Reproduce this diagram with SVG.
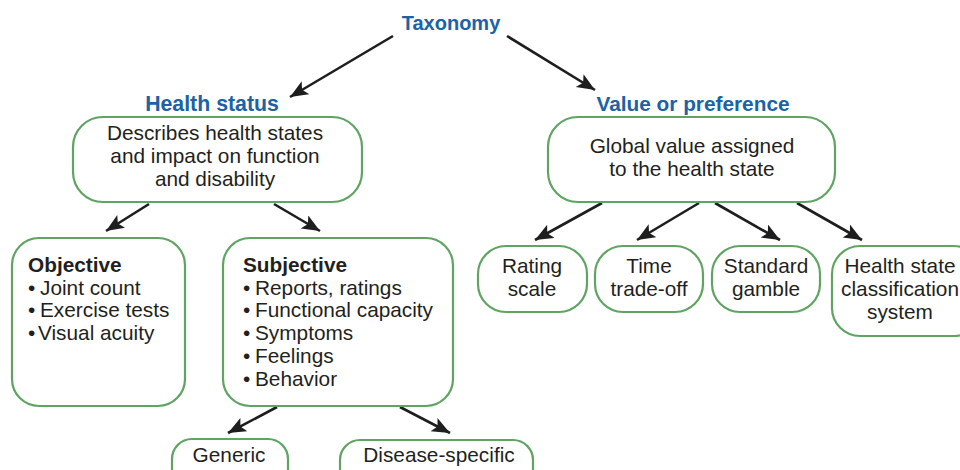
<svg xmlns="http://www.w3.org/2000/svg" width="960" height="470" viewBox="0 0 960 470">
<defs>
<marker id="ah" markerUnits="userSpaceOnUse" markerWidth="20" markerHeight="16" refX="18" refY="7.5" orient="auto">
<path d="M0,0 L18,7.5 L0,15 L4,7.5 z" fill="#1e1e1e"/>
</marker>
<style>
.box{fill:#fff;stroke:#5fa463;stroke-width:2.2}
.t{font-family:"Liberation Sans",Arial,sans-serif;font-size:20.8px;fill:#231f20}
.c{text-anchor:middle}
.h{font-family:"Liberation Sans",Arial,sans-serif;font-size:20.8px;font-weight:bold;fill:#1b62a6;text-anchor:middle}
.b{font-weight:bold}
.arr{stroke:#1e1e1e;stroke-width:2.6;fill:none;marker-end:url(#ah)}
</style>
</defs>
<rect width="960" height="470" fill="#fff"/>
<g id="connectors">
<line class="arr" x1="393" y1="36" x2="290" y2="97"/>
<line class="arr" x1="507" y1="36" x2="595" y2="90"/>
<line class="arr" x1="149" y1="204" x2="106" y2="231"/>
<line class="arr" x1="274" y1="204" x2="320" y2="231"/>
<line class="arr" x1="277" y1="407" x2="228" y2="433"/>
<line class="arr" x1="400" y1="407" x2="450" y2="433"/>
<line class="arr" x1="602" y1="203" x2="535" y2="240"/>
<line class="arr" x1="699" y1="203" x2="637" y2="240"/>
<line class="arr" x1="715" y1="203" x2="780" y2="240"/>
<line class="arr" x1="797" y1="203" x2="862" y2="240"/>
</g>
<g id="taxonomy">
<text class="h" x="451" y="30" style="font-size:20px">Taxonomy</text>
</g>
<g id="health-status">
<text class="h" x="212" y="111" style="font-size:21.3px">Health status</text>
<rect class="box" x="73" y="117" width="289" height="85" rx="30"/>
<text class="t c" x="215" y="140">Describes health states</text>
<text class="t c" x="215" y="163">and impact on function</text>
<text class="t c" x="215" y="186">and disability</text>
</g>
<g id="objective">
<rect class="box" x="12" y="238" width="173" height="168" rx="27"/>
<text class="t b" x="28" y="272">Objective</text>
<text class="t" x="28" y="295">•<tspan x="40">Joint count</tspan></text>
<text class="t" x="28" y="317">•<tspan x="40">Exercise tests</tspan></text>
<text class="t" x="28" y="340">•<tspan x="38">Visual acuity</tspan></text>
</g>
<g id="subjective">
<rect class="box" x="223" y="238" width="230" height="168" rx="27"/>
<text class="t b" x="243" y="272">Subjective</text>
<text class="t" x="243" y="295">•<tspan x="255">Reports, ratings</tspan></text>
<text class="t" x="243" y="317">•<tspan x="255">Functional capacity</tspan></text>
<text class="t" x="243" y="340">•<tspan x="255">Symptoms</tspan></text>
<text class="t" x="243" y="363">•<tspan x="255">Feelings</tspan></text>
<text class="t" x="243" y="386">•<tspan x="255">Behavior</tspan></text>
</g>
<g id="generic">
<rect class="box" x="172" y="439" width="116" height="50" rx="20"/>
<text class="t c" x="229" y="462">Generic</text>
</g>
<g id="disease-specific">
<rect class="box" x="340" y="440" width="193" height="50" rx="20"/>
<text class="t c" x="439" y="462">Disease-specific</text>
</g>
<g id="value-preference">
<text class="h" x="693" y="111">Value or preference</text>
<rect class="box" x="548" y="117" width="287" height="85" rx="30"/>
<text class="t c" x="692" y="153">Global value assigned</text>
<text class="t c" x="692" y="176">to the health state</text>
</g>
<g id="rating-scale">
<rect class="box" x="478" y="246" width="109" height="66" rx="28"/>
<text class="t c" x="532" y="273">Rating</text>
<text class="t c" x="532" y="296">scale</text>
</g>
<g id="time-trade-off">
<rect class="box" x="595" y="246" width="108" height="66" rx="28"/>
<text class="t c" x="649" y="273">Time</text>
<text class="t c" x="649" y="296">trade-off</text>
</g>
<g id="standard-gamble">
<rect class="box" x="712" y="246" width="108" height="66" rx="28"/>
<text class="t c" x="766" y="273">Standard</text>
<text class="t c" x="766" y="296">gamble</text>
</g>
<g id="health-state-classification">
<rect class="box" x="832" y="246" width="150" height="90" rx="28"/>
<text class="t c" x="900" y="273">Health state</text>
<text class="t c" x="900" y="296">classification</text>
<text class="t c" x="900" y="319">system</text>
</g>
</svg>
